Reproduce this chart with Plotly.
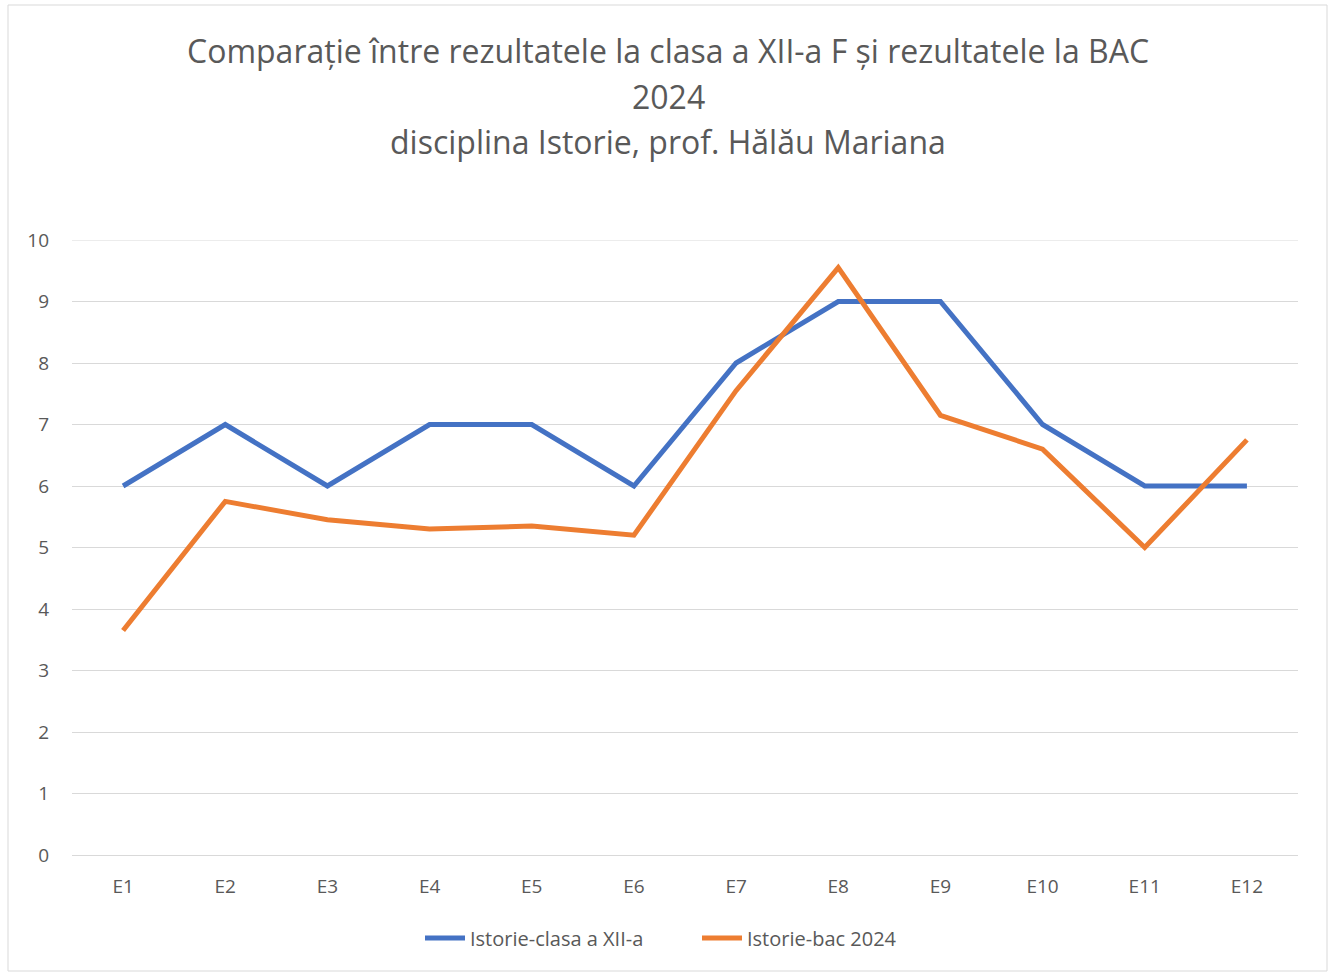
import plotly.graph_objects as go

categories = ["E1", "E2", "E3", "E4", "E5", "E6", "E7", "E8", "E9", "E10", "E11", "E12"]
clasa_xii = [6, 7, 6, 7, 7, 6, 8, 9, 9, 7, 6, 6]
bac_2024 = [3.65, 5.75, 5.45, 5.3, 5.35, 5.2, 7.55, 9.55, 7.15, 6.6, 5.0, 6.75]
series_names = ["Istorie-clasa a XII-a", "Istorie-bac 2024"]
title_lines = [
    "Comparație între rezultatele la clasa a XII-a F și rezultatele la BAC",
    "2024",
    "disciplina Istorie, prof. Hălău Mariana",
]
y_max = 10

W, H = 1332, 974
L, R, T, B = 72, 34, 240, 119
pw, ph = W - L - R, H - T - B

FONT = "Open Sans"
GREY = "#595959"
GRID = "#D9D9D9"

fig = go.Figure()
fig.add_trace(go.Scatter(x=categories, y=clasa_xii, mode="lines", name=series_names[0],
                         line=dict(color="#4472C4", width=5)))
fig.add_trace(go.Scatter(x=categories, y=bac_2024, mode="lines", name=series_names[1],
                         line=dict(color="#ED7D31", width=5)))

# title lines, placed in pixel rows above the plot
annotations = []
for txt, ypix in zip(title_lines, [50, 96, 141]):
    annotations.append(dict(text=txt, xref="paper", yref="paper",
                            x=(668 - L) / pw, y=(H - B - ypix) / ph,
                            xanchor="center", yanchor="middle", showarrow=False,
                            font=dict(family=FONT, size=32, color=GREY)))

# outer chart frame
frame = dict(type="rect", xref="paper", yref="paper",
             x0=(8 - L) / pw, x1=(1327 - L) / pw,
             y0=(H - B - 971) / ph, y1=(H - B - 5) / ph,
             line=dict(color=GRID, width=1), fillcolor="rgba(0,0,0,0)", layer="below")
# gridline at the top of the value range
top_grid = dict(type="line", xref="paper", yref="y", x0=0, x1=1, y0=y_max, y1=y_max,
                line=dict(color=GRID, width=1), layer="below")

fig.update_layout(
    width=W, height=H,
    margin=dict(l=L, r=R, t=T, b=B),
    paper_bgcolor="white", plot_bgcolor="white",
    font=dict(family=FONT, color=GREY, size=19),
    showlegend=True,
    legend=dict(orientation="h", x=(697 - L) / pw, xanchor="center", y=(H - B - 938) / ph,
                yanchor="middle", font=dict(family=FONT, size=20, color=GREY), itemwidth=40,
                traceorder="normal", entrywidth=222),
    annotations=annotations,
    shapes=[frame, top_grid],
    xaxis=dict(type="category", range=[-0.5, 11.5], showgrid=False, showline=True,
               linecolor=GRID, linewidth=1, ticks="", ticklabelstandoff=14,
               tickfont=dict(family=FONT, size=19, color=GREY), fixedrange=True),
    yaxis=dict(range=[0, y_max], dtick=1, showgrid=True, gridcolor=GRID, gridwidth=1,
               zeroline=False, showline=False, ticks="", ticklabelstandoff=22,
               tickfont=dict(family=FONT, size=19, color=GREY), fixedrange=True),
)

fig.write_html("out.html")
